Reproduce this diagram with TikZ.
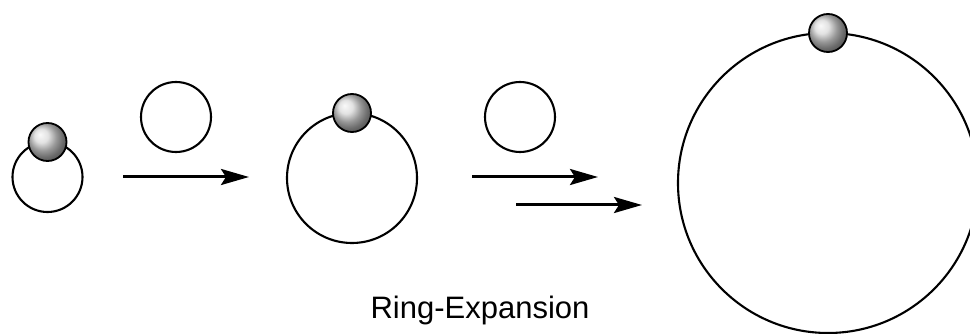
\documentclass[tikz,border=0pt]{standalone}
\usepackage{fontspec}
\setmainfont{Liberation Sans}
\usetikzlibrary{arrows.meta}
\begin{document}
\begin{tikzpicture}[x=1pt,y=-1pt,
  ring/.style={circle, draw=black, line width=2.1pt, inner sep=0pt, outer sep=0pt},
  ballnode/.style={circle, shading=ball, ball color=gray!30, draw=black, line width=1.8pt, inner sep=0pt, outer sep=0pt, minimum size=38pt},
  rxn/.style={line width=3pt, -{Stealth[length=28pt,width=16pt,inset=5pt]}},
  lbl/.style={font=\fontsize{31}{36}\selectfont, inner sep=0pt}]
\useasboundingbox (0,0) rectangle (970,334);
% rings
\node[ring, minimum size=70pt] (r1) at (47.5,177) {};
\node[ring, minimum size=130pt] (r2) at (352,178) {};
\node[ring, minimum size=300pt] (r3) at (828,183) {};
% spheres
\node[ballnode] (b1) at (r1.north) {};
\node[ballnode] (b2) at (r2.north) {};
\node[ballnode] (b3) at (r3.north) {};
% reagent rings
\node[ring, minimum size=70pt] (c1) at (176,117) {};
\node[ring, minimum size=70pt] (c2) at (520,117) {};
% arrows
\coordinate (a1s) at (123,177);
\coordinate (a1e) at (249,177);
\coordinate (a2s) at (472,177);
\coordinate (a2e) at (598,177);
\coordinate (a3s) at (516,205);
\coordinate (a3e) at (642,205);
\draw[rxn] (a1s) -- (a1e);
\draw[rxn] (a2s) -- (a2e);
\draw[rxn] (a3s) -- (a3e);
% label
\node[lbl, anchor=base] (t) at (480,318) {Ring-Expansion};
\end{tikzpicture}
\end{document}
